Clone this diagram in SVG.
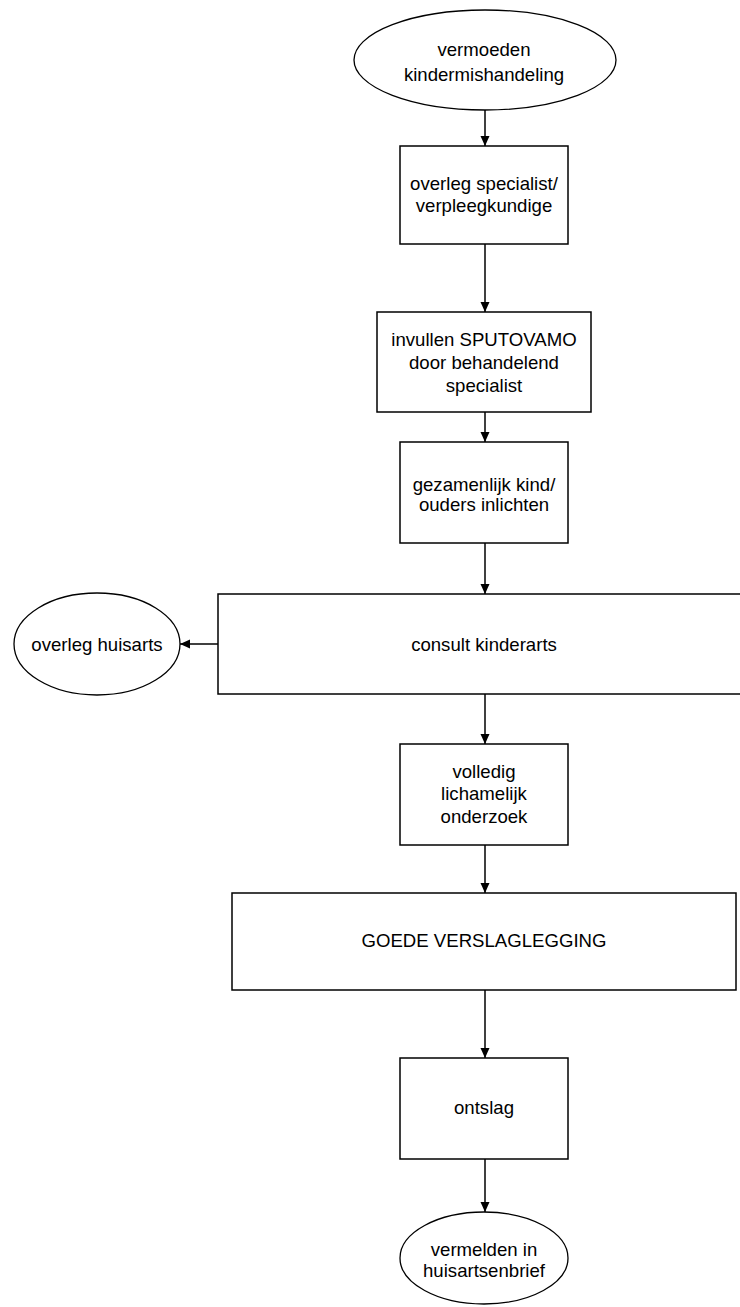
<svg xmlns="http://www.w3.org/2000/svg" width="740" height="1307" viewBox="0 0 740 1307">
<style>
.shape{fill:#ffffff;stroke:#000000;stroke-width:1.5}
.ell{fill:#ffffff;stroke:#000000;stroke-width:1.3}
.lbl{font-family:"Liberation Sans",Arial,sans-serif;font-size:18.6px;fill:#000000;text-anchor:middle}
.conn{fill:none;stroke:#000000;stroke-width:1.5;marker-end:url(#arr)}
</style>
<defs>
<marker id="arr" markerUnits="userSpaceOnUse" viewBox="0 0 10 10" refX="10" refY="5" markerWidth="10" markerHeight="10" orient="auto">
<path d="M0,0.5 L10,5 L0,9.5 z" fill="#000000"/>
</marker>
</defs>
<rect width="740" height="1307" fill="#ffffff"/>
<g id="connectors">
<line class="conn" x1="485" y1="110" x2="485" y2="146"/>
<line class="conn" x1="485" y1="244" x2="485" y2="312"/>
<line class="conn" x1="485" y1="412" x2="485" y2="442"/>
<line class="conn" x1="485" y1="543" x2="485" y2="594"/>
<line class="conn" x1="218" y1="644" x2="180" y2="644"/>
<line class="conn" x1="485" y1="694" x2="485" y2="744"/>
<line class="conn" x1="485" y1="845" x2="485" y2="893"/>
<line class="conn" x1="485" y1="990" x2="485" y2="1058"/>
<line class="conn" x1="485" y1="1159" x2="485" y2="1212"/>
</g>
<g id="n1">
<ellipse class="ell" cx="485" cy="60" rx="131" ry="50"/>
<text class="lbl" x="484" y="56">vermoeden<tspan x="484" y="81">kindermishandeling</tspan></text>
</g>
<g id="n2">
<rect class="shape" x="400" y="146" width="168" height="98"/>
<text class="lbl" x="484" y="190">overleg specialist/<tspan x="484" y="212">verpleegkundige</tspan></text>
</g>
<g id="n3">
<rect class="shape" x="377" y="312" width="214" height="100"/>
<text class="lbl" x="484" y="346">invullen SPUTOVAMO<tspan x="484" y="369">door behandelend</tspan><tspan x="484" y="392">specialist</tspan></text>
</g>
<g id="n4">
<rect class="shape" x="400" y="442" width="168" height="101"/>
<text class="lbl" x="484" y="491">gezamenlijk kind/<tspan x="484" y="510.5">ouders inlichten</tspan></text>
</g>
<g id="n5">
<rect class="shape" x="218" y="594" width="540" height="100"/>
<text class="lbl" x="484" y="651">consult kinderarts</text>
</g>
<g id="n6">
<ellipse class="ell" cx="97" cy="644" rx="83" ry="51"/>
<text class="lbl" x="97" y="651">overleg huisarts</text>
</g>
<g id="n7">
<rect class="shape" x="400" y="744" width="168" height="101"/>
<text class="lbl" x="484" y="778">volledig<tspan x="484" y="800">lichamelijk</tspan><tspan x="484" y="823">onderzoek</tspan></text>
</g>
<g id="n8">
<rect class="shape" x="232" y="893" width="504" height="97"/>
<text class="lbl" x="484" y="947">GOEDE VERSLAGLEGGING</text>
</g>
<g id="n9">
<rect class="shape" x="400" y="1058" width="168" height="101"/>
<text class="lbl" x="484" y="1114">ontslag</text>
</g>
<g id="n10">
<ellipse class="ell" cx="484" cy="1258" rx="84" ry="46"/>
<text class="lbl" x="484" y="1256">vermelden in<tspan x="484" y="1277">huisartsenbrief</tspan></text>
</g>
</svg>
